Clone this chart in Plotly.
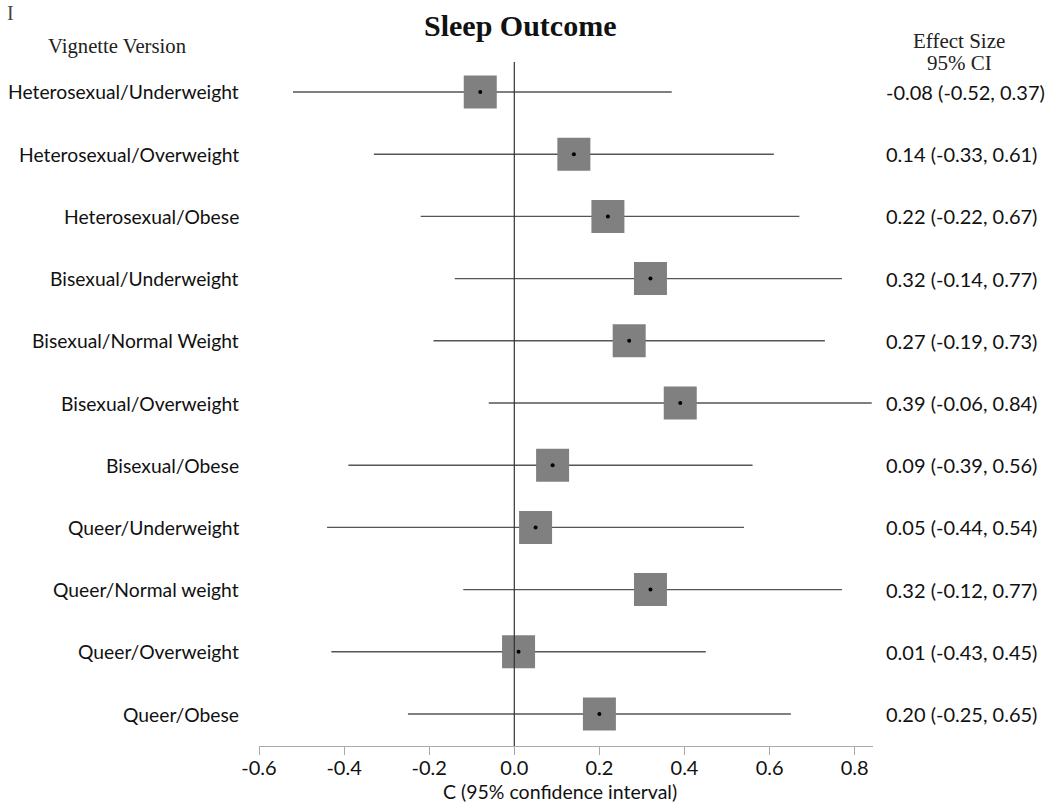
import plotly.graph_objects as go

# Vignette conditions, effect sizes and 95% confidence limits
versions = [
    "Heterosexual/Underweight", "Heterosexual/Overweight", "Heterosexual/Obese",
    "Bisexual/Underweight", "Bisexual/Normal Weight", "Bisexual/Overweight",
    "Bisexual/Obese", "Queer/Underweight", "Queer/Normal weight",
    "Queer/Overweight", "Queer/Obese",
]
effect = [-0.08, 0.14, 0.22, 0.32, 0.27, 0.39, 0.09, 0.05, 0.32, 0.01, 0.20]
ci_low = [-0.52, -0.33, -0.22, -0.14, -0.19, -0.06, -0.39, -0.44, -0.12, -0.43, -0.25]
ci_high = [0.37, 0.61, 0.67, 0.77, 0.73, 0.84, 0.56, 0.54, 0.77, 0.45, 0.65]
x_ticks = [-0.6, -0.4, -0.2, 0.0, 0.2, 0.4, 0.6, 0.8]

rows = list(range(len(versions)))
LABEL_FONT = "Lato"
SERIF = "Liberation Serif"

# Plot-area geometry in pixels (used to place the surrounding text)
W, H = 1047, 807
M_L, M_R, M_T, M_B = 259, 174, 62, 61
PW, PH = W - M_L - M_R, H - M_T - M_B


def px_x(px):
    return (px - M_L) / PW


def px_y(px):
    return (H - M_B - px) / PH


fig = go.Figure()

# Confidence interval whiskers
fig.add_trace(go.Scatter(
    x=effect, y=rows, mode="markers",
    marker=dict(size=1, color="rgba(0,0,0,0)"),
    error_x=dict(type="data", symmetric=False,
                 array=[h - e for h, e in zip(ci_high, effect)],
                 arrayminus=[e - l for e, l in zip(effect, ci_low)],
                 color="#555555", thickness=1.4, width=0),
    hoverinfo="skip", showlegend=False,
))
# Point-estimate boxes
fig.add_trace(go.Scatter(
    x=effect, y=rows, mode="markers",
    marker=dict(symbol="square", size=33, color="#808080", line=dict(width=0)),
    hoverinfo="skip", showlegend=False,
))
# Centre dots
fig.add_trace(go.Scatter(
    x=effect, y=rows, mode="markers",
    marker=dict(symbol="circle", size=4, color="#000000"),
    hoverinfo="skip", showlegend=False,
))

# Reference line at zero
fig.add_shape(type="line", xref="x", yref="paper", x0=0, x1=0, y0=0, y1=1,
              line=dict(color="#333333", width=1.2))

annotations = []
for i, (name, e, lo, hi) in enumerate(zip(versions, effect, ci_low, ci_high)):
    annotations.append(dict(
        xref="paper", yref="y", x=px_x(241), y=i, xanchor="right", yanchor="middle",
        text=name, showarrow=False,
        font=dict(family=LABEL_FONT, size=19.3, color="#111111")))
    annotations.append(dict(
        xref="paper", yref="y", x=px_x(884), y=i, xanchor="left", yanchor="middle",
        text=f"{e:.2f} ({lo:.2f}, {hi:.2f})", showarrow=False,
        font=dict(family=LABEL_FONT, size=20, color="#111111")))

annotations += [
    dict(xref="paper", yref="paper", x=px_x(520), y=px_y(25), xanchor="center",
         yanchor="middle", text="<b>Sleep Outcome</b>", showarrow=False,
         font=dict(family=SERIF, size=30, color="#111111")),
    dict(xref="paper", yref="paper", x=px_x(117), y=px_y(46), xanchor="center",
         yanchor="middle", text="Vignette Version", showarrow=False,
         font=dict(family=SERIF, size=20.7, color="#222222")),
    dict(xref="paper", yref="paper", x=px_x(959), y=px_y(41), xanchor="center",
         yanchor="middle", text="Effect Size", showarrow=False,
         font=dict(family=SERIF, size=21, color="#222222")),
    dict(xref="paper", yref="paper", x=px_x(959), y=px_y(63), xanchor="center",
         yanchor="middle", text="95% CI", showarrow=False,
         font=dict(family=SERIF, size=21, color="#222222")),
    dict(xref="paper", yref="paper", x=px_x(10), y=px_y(13), xanchor="center",
         yanchor="middle", text="I", showarrow=False,
         font=dict(family=SERIF, size=20, color="#444444")),
    dict(xref="paper", yref="paper", x=px_x(560), y=px_y(805), xanchor="center",
         yanchor="bottom", text="C (95% confidence interval)", showarrow=False,
         font=dict(family=LABEL_FONT, size=19.5, color="#111111")),
]

fig.update_layout(
    width=W, height=H,
    margin=dict(l=M_L, r=M_R, t=M_T, b=M_B),
    paper_bgcolor="white", plot_bgcolor="white",
    showlegend=False,
    annotations=annotations,
    xaxis=dict(
        range=[-0.6, 0.843], tickvals=x_ticks,
        ticktext=[f"{t:.1f}" for t in x_ticks],
        showgrid=False, zeroline=False, automargin=False,
        showline=True, linecolor="#aaaaaa", linewidth=1,
        ticks="outside", ticklen=8, tickcolor="#aaaaaa",
        ticklabelstandoff=-4,
        tickfont=dict(family=LABEL_FONT, size=20, color="#111111"),
    ),
    yaxis=dict(
        range=[10.514, -0.482], visible=False, showgrid=False, zeroline=False,
        automargin=False,
    ),
)

fig.write_html("out.html")
